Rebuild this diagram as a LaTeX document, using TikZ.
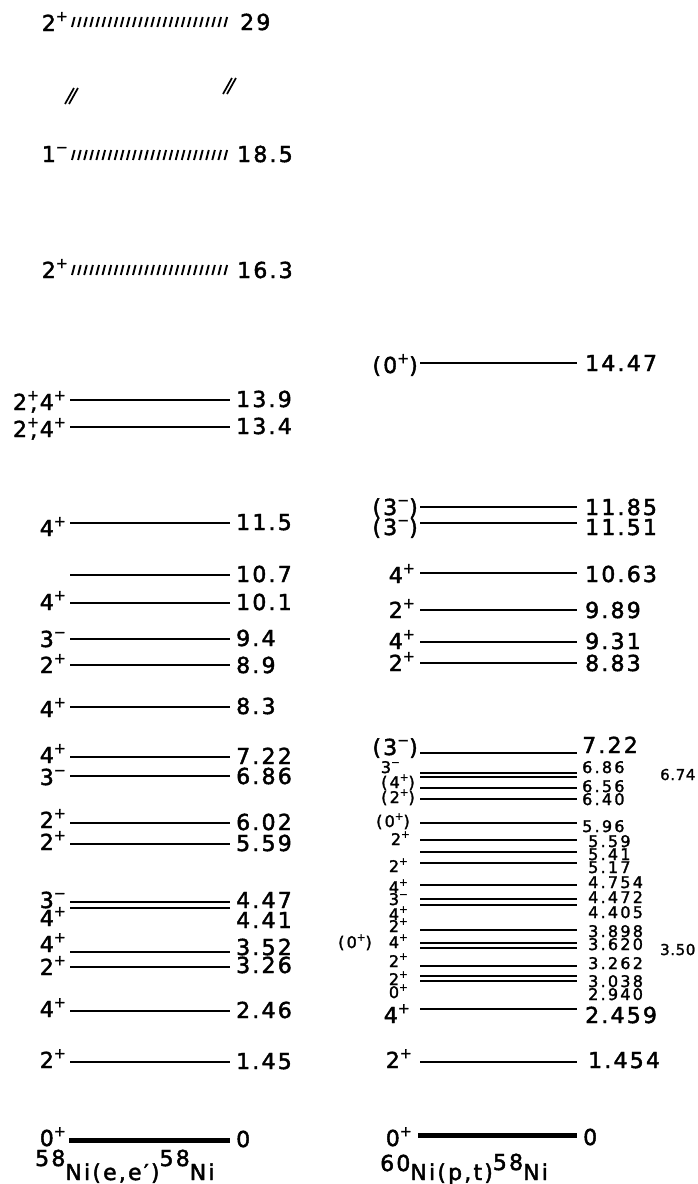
\documentclass[tikz,border=0pt]{standalone}
\usepackage{fontspec}
\newfontfamily\labfont{DejaVu Sans}[LetterSpace=10, FakeBold=2]
\newfontfamily\labsmfont{DejaVu Sans}[LetterSpace=14, FakeBold=1.8]
\newfontfamily\labtnfont{DejaVu Sans}[LetterSpace=4, FakeBold=1.5]
\newcommand\bgfont{\labfont\fontsize{22}{24}\selectfont}
\newcommand\smfont{\labsmfont\fontsize{16}{18}\selectfont}
\newcommand\tnfont{\labtnfont\fontsize{15}{17}\selectfont}
\newcommand\capfont{\labfont\fontsize{22}{24}\selectfont}
\newcommand\jp[2]{#1\raisebox{0.45em}{\scalebox{0.65}{#2}}}
\newcommand\iso[3]{\raisebox{#1}{#2}#3}

\begin{document}
\begin{tikzpicture}[x=1pt, y=-1pt,
  lev/.style={line width=1.8pt},
  gnd/.style={line width=5pt},
  hatch/.style={line width=1.9pt},
  brk/.style={line width=1.7pt},
  spin/.style={anchor=base east, inner sep=0pt},
  en/.style={anchor=base west, inner sep=0pt}]

\useasboundingbox (0,0) rectangle (697,1184);

% broad levels (hatched)
\foreach \y/\s/\sb/\e/\eb/\ex [count=\i] in {22/\jp2+/31/29/30/240,
    155/\jp1−/162/18.5/162/237, 270/\jp2+/278/16.3/278/237}{
  \coordinate (Ha\i) at (72,\y);
  \node[spin, font=\bgfont] (Hs\i) at (68,\sb) {\s};
  \node[en, font=\bgfont] (He\i) at (\ex,\eb) {\e};
  \foreach \k in {0,...,25}
    \draw[hatch] ([shift={(\k*6.1,5)}]Ha\i) -- ++(2.6,-10);
}

% break marks
\coordinate (brkL) at (65,104);
\coordinate (brkR) at (223,94);
\draw[brk] (brkL) -- ++(9,-16);
\draw[brk] ([xshift=4pt]brkL) -- ++(9,-16);
\draw[brk] (brkR) -- ++(9,-16);
\draw[brk] ([xshift=4pt]brkR) -- ++(9,-16);

% 58Ni(e,e') levels
\foreach \y/\s/\sb/\e/\eb [count=\i] in {
    400/{\jp2+\kern-.4em,\kern.12em\jp4+}/410/13.9/407,
    427/{\jp2+\kern-.4em,\kern.12em\jp4+}/437/13.4/434,
    523/\jp4+/536/11.5/530,
    575/{}/582/10.7/582,
    603/\jp4+/610/10.1/610,
    639/\jp3−/647/9.4/646,
    665/\jp2+/673/8.9/673,
    707/\jp4+/717/8.3/714,
    757/\jp4+/763/7.22/764,
    776/\jp3−/785/6.86/784,
    823/\jp2+/828/6.02/830,
    844/\jp2+/850/5.59/851,
    902/\jp3−/908/4.47/908,
    908/\jp4+/926/4.41/928,
    952/\jp4+/952/3.52/955,
    967/\jp2+/975/3.26/973,
    1011/\jp4+/1017/2.46/1018,
    1062/\jp2+/1068/1.45/1069}{
  \coordinate (La\i) at (70,\y);
  \coordinate (Lb\i) at (230,\y);
  \draw[lev] (La\i) -- (Lb\i);
  \node[spin, font=\bgfont] (Ls\i) at (66,\sb) {\s};
  \node[en, font=\bgfont] (Le\i) at (236,\eb) {\e};
}
\coordinate (L0a) at (69,1140);
\coordinate (L0b) at (230,1140);
\draw[gnd] (L0a) -- (L0b);
\node[spin, font=\bgfont] (L0s) at (66,1146) {\jp0+};
\node[en, font=\bgfont] (L0e) at (236,1147) {0};

% 60Ni(p,t) levels
\foreach \y/\e/\eb/\ex/\f [count=\i] in {
    363/14.47/371/585/\bgfont,
    507/11.85/515/585/\bgfont,
    523/11.51/535/585/\bgfont,
    573/10.63/582/585/\bgfont,
    610/9.89/618/585/\bgfont,
    642/9.31/649/585/\bgfont,
    663/8.83/671/585/\bgfont,
    753/7.22/753/582/\bgfont,
    773/6.86/773/582/\smfont,
    777/6.74/780/660/\tnfont,
    788/6.56/792/582/\smfont,
    799/6.40/805/582/\smfont,
    823/5.96/832/582/\smfont,
    840/5.59/847/588/\smfont,
    852/5.41/860/588/\smfont,
    863/5.17/873/588/\smfont,
    885/4.754/888/588/\smfont,
    899/4.472/903/588/\smfont,
    905/4.405/918/588/\smfont,
    930/3.898/937/588/\smfont,
    943/3.620/950/588/\smfont,
    948/3.50/955/660/\tnfont,
    966/3.262/969/588/\smfont,
    976/3.038/987/588/\smfont,
    981/2.940/1000/588/\smfont,
    1009/2.459/1023/585/\bgfont,
    1062/1.454/1068/588/\bgfont}{
  \coordinate (Ra\i) at (420,\y);
  \coordinate (Rb\i) at (577,\y);
  \draw[lev] (Ra\i) -- (Rb\i);
  \node[en, font=\f] (Re\i) at (\ex,\eb) {\e};
}
\foreach \s/\sb/\sx/\f [count=\i] in {
    {(\jp0+)}/373/418/\bgfont,
    {(\jp3−)}/515/418/\bgfont,
    {(\jp3−)}/535/418/\bgfont,
    \jp4+/583/415/\bgfont,
    \jp2+/618/415/\bgfont,
    \jp4+/649/415/\bgfont,
    \jp2+/671/415/\bgfont,
    {(\jp3−)}/755/418/\bgfont,
    \jp3−/773/400/\smfont,
    {(\jp4+)}/788/415/\smfont,
    {(\jp2+)}/803/415/\smfont,
    {(\jp0+)}/827/410/\smfont,
    \jp2+/845/410/\smfont,
    \jp2+/872/408/\smfont,
    \jp4+/893/408/\smfont,
    \jp3−/905/408/\smfont,
    \jp4+/920/408/\smfont,
    \jp2+/932/408/\smfont,
    \jp4+/948/408/\smfont,
    {(\jp0+)}/948/372/\smfont,
    \jp2+/967/408/\smfont,
    \jp2+/985/408/\smfont,
    \jp0+/998/408/\smfont,
    \jp4+/1023/410/\bgfont,
    \jp2+/1068/412/\bgfont}{
  \node[spin, font=\f] (Rs\i) at (\sx,\sb) {\s};
}
\coordinate (R0a) at (418,1135);
\coordinate (R0b) at (577,1135);
\draw[gnd] (R0a) -- (R0b);
\node[spin, font=\bgfont] (R0s) at (412,1146) {\jp0+};
\node[en, font=\bgfont] (R0e) at (583,1145) {0};

% reaction labels
\node[en, font=\capfont] (capL) at (35,1180)
  {\iso{14pt}{58}{Ni(e,e′)}\iso{14pt}{58}{Ni}};
\node[en, font=\capfont] (capR) at (380,1180)
  {\iso{9pt}{60}{Ni(p,t)}\iso{10pt}{58}{Ni}};
\end{tikzpicture}
\end{document}
